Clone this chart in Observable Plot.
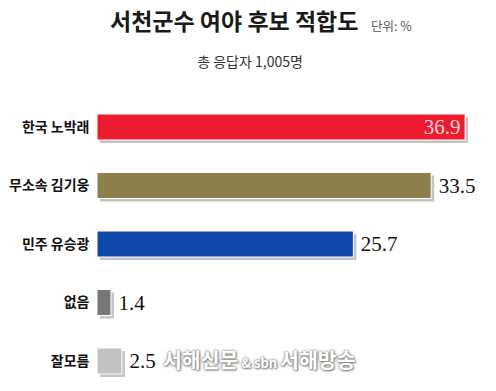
<!DOCTYPE html>
<html><head><meta charset="utf-8">
<script src="https://cdn.jsdelivr.net/npm/d3@7"></script>
<script src="https://cdn.jsdelivr.net/npm/@observablehq/plot@0.6"></script>
<style>
html,body{margin:0;padding:0;background:#fff;}
#wrap{position:relative;width:496px;height:391px;overflow:hidden;font-family:"Noto Sans CJK KR","Noto Sans",sans-serif;}
#head{position:relative;height:80px;}
#title{position:absolute;left:110px;top:3px;font-size:23px;font-weight:700;color:#1a1a1a;white-space:nowrap;}
#unit{position:absolute;left:371px;top:16px;font-size:12.5px;color:#555;white-space:nowrap;}
#sub{position:absolute;left:0;width:496px;text-align:center;top:51px;font-size:14px;color:#333;padding-left:2px;white-space:nowrap;}
#wm{position:absolute;left:163px;top:344px;font-size:20.5px;font-weight:700;color:#fff;white-space:nowrap;
 text-shadow:0 0 2px #888,0 0 3px #999,1px 1px 2px #777;}
#wm small{font-size:13px;}
</style></head>
<body><div id="wrap">
<div id="head">
<div id="title">서천군수 여야 후보 적합도</div>
<div id="unit">단위: %</div>
<div id="sub">총 응답자 1,005명</div>
</div>
<div id="chart"></div>
<div id="wm">서해신문<small> &amp; sbn </small>서해방송</div>
</div>
<script>
const categories = ["한국 노박래", "무소속 김기웅", "민주 유승광", "없음", "잘모름"];
const values = [36.9, 33.5, 25.7, 1.4, 2.5];
const colors = ["#EC1C30", "#8C7F4C", "#0E48AA", "#777777", "#C2C2C2"];
const data = categories.map((c, i) => ({cat: c, v: values[i], color: colors[i], inside: i === 0}));

const plot = Plot.plot({
  width: 496,
  height: 311,
  margin: 0,
  x: {domain: [0, 40], range: [97, 496], axis: null},
  y: {domain: categories, range: [34, 294], paddingInner: 0.556, paddingOuter: 0, round: false, axis: null},
  style: {background: "#fff"},
  marks: [
    Plot.barX(data, {x: "v", y: "cat", fill: "#c4c4c4", dx: 3, dy: 3}),
    Plot.barX(data, {x: "v", y: "cat", fill: "color", stroke: "#fff", strokeWidth: 1}),
    Plot.text(data, {x: 0, y: "cat", text: "cat", textAnchor: "end", dx: -8,
      fontFamily: "Noto Sans CJK KR", fontWeight: 700, fontSize: 14, fill: "#111"}),
    Plot.text(data.filter(d => d.inside), {x: "v", y: "cat", text: d => d.v.toFixed(1), textAnchor: "end", dx: -5,
      fontFamily: "Liberation Serif", fontSize: 21, fill: "#f6d3d7"}),
    Plot.text(data.filter(d => !d.inside), {x: "v", y: "cat", text: d => d.v.toFixed(1), textAnchor: "start", dx: 7,
      fontFamily: "Liberation Serif", fontSize: 21, fill: "#111"})
  ]
});
document.getElementById("chart").appendChild(plot);
</script>
</body></html>
